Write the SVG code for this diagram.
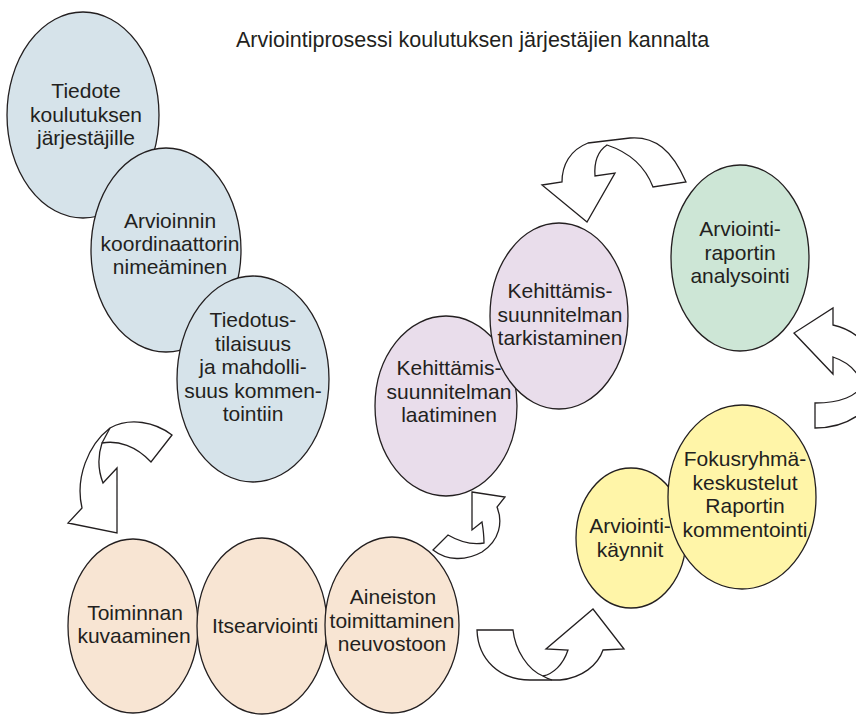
<svg xmlns="http://www.w3.org/2000/svg" width="856" height="715" viewBox="0 0 856 715">
<style>
  text { font-family: "Liberation Sans", Arial, sans-serif; font-size: 21px; fill: #231f20; text-anchor: middle; }
  .title { text-anchor: start; font-size: 21.5px; }
  ellipse { stroke: #231f20; stroke-width: 1.3; }
  .blue { fill: #d6e3ea; }
  .peach { fill: #f8e5d3; }
  .lav { fill: #e9ddeb; }
  .mint { fill: #cde6d6; }
  .yel { fill: #fff5a8; }
  .arrow { fill: #ffffff; stroke: #231f20; stroke-width: 1.3; stroke-linejoin: miter; }
  .fold { fill: none; stroke: #231f20; stroke-width: 1.3; }
</style>
<rect width="856" height="715" fill="#ffffff"/>
<text class="title" x="236" y="47">Arviointiprosessi koulutuksen järjestäjien kannalta</text>

<g id="connectors">
  <path class="arrow" d="M 686,182 C 672,150 655,136 630,138 L 588,143 C 570,150 562,165 562,182 L 542,185 L 587,222 L 615,173 L 595,176 C 594,162 598,151 607,145 C 628,152 645,166 653,187 Z"/>
  <path class="arrow" d="M 815,428 C 855,428 885,400 878,370 C 872,345 855,330 833,325 L 833,308 L 794,333 L 833,374 L 833,357 C 848,362 858,372 862,384 C 858,396 840,403 815,403 Z"/>
  <path class="arrow" d="M 172,435 C 155,422 130,417 110,428 C 88,445 75,478 82,508 L 68,523 L 117,533 L 117,468 L 103,483 C 98,470 98,455 102,443 C 118,440 136,446 151,462 Z"/>
  <path class="fold" d="M 110,428 L 102,443"/>
  <path class="arrow" d="M 472,492 L 505,497 L 497,507 C 503,522 500,540 482,552 C 466,561 447,561 433,550 L 448,535 C 460,542 472,545 484,543 C 484,535 483,528 482,522 L 472,530 Z"/>
  <path class="arrow" d="M 477,630 C 478,660 500,680 530,680 L 560,680 C 582,678 598,665 603,650 L 624,649 L 593,609 L 546,649 L 568,650 C 563,665 553,674 543,676 C 528,670 515,650 513,630 Z"/>
  <path class="fold" d="M 543,676 C 546,678 549,679 552,680"/>
</g>

<g id="n1"><ellipse class="blue" cx="83" cy="115" rx="76" ry="103"/>
  <text x="86" y="98">Tiedote</text><text x="86" y="122">koulutuksen</text><text x="86" y="145">järjestäjille</text></g>
<g id="n2"><ellipse class="blue" cx="166" cy="250" rx="75" ry="102"/>
  <text x="170" y="228">Arvioinnin</text><text x="170" y="251">koordinaattorin</text><text x="170" y="274">nimeäminen</text></g>
<g id="n3"><ellipse class="blue" cx="253" cy="379" rx="76" ry="103"/>
  <text x="253" y="327">Tiedotus-</text><text x="253" y="350.5">tilaisuus</text><text x="253" y="374">ja mahdolli-</text><text x="253" y="397.5">suus kommen-</text><text x="253" y="421">tointiin</text></g>

<g id="n4"><ellipse class="peach" cx="133" cy="626" rx="65" ry="87"/>
  <text x="135" y="620">Toiminnan</text><text x="134" y="643">kuvaaminen</text></g>
<g id="n5"><ellipse class="peach" cx="262" cy="626" rx="65" ry="88"/>
  <text x="265" y="633">Itsearviointi</text></g>
<g id="n6"><ellipse class="peach" cx="392" cy="625" rx="67" ry="88"/>
  <text x="393" y="604">Aineiston</text><text x="392" y="628">toimittaminen</text><text x="392" y="651">neuvostoon</text></g>

<g id="n7"><ellipse class="lav" cx="446" cy="406" rx="71" ry="90"/>
  <text x="449" y="375">Kehittämis-</text><text x="449" y="399">suunnitelman</text><text x="449" y="422">laatiminen</text></g>
<g id="n8"><ellipse class="lav" cx="559" cy="316" rx="69" ry="93"/>
  <text x="560" y="298">Kehittämis-</text><text x="560" y="321.5">suunnitelman</text><text x="560" y="345">tarkistaminen</text></g>

<g id="n9"><ellipse class="mint" cx="740" cy="258" rx="69" ry="93"/>
  <text x="740" y="236">Arviointi-</text><text x="740" y="260">raportin</text><text x="740" y="283">analysointi</text></g>

<g id="n11"><ellipse class="yel" cx="631" cy="538" rx="55" ry="70"/>
  <text x="630" y="533">Arviointi-</text><text x="630" y="557">käynnit</text></g>
<g id="n10"><ellipse class="yel" cx="742" cy="497" rx="74" ry="92"/>
  <text x="745" y="466">Fokusryhmä-</text><text x="745" y="490">keskustelut</text><text x="745" y="513">Raportin</text><text x="745" y="537">kommentointi</text></g>
</svg>
